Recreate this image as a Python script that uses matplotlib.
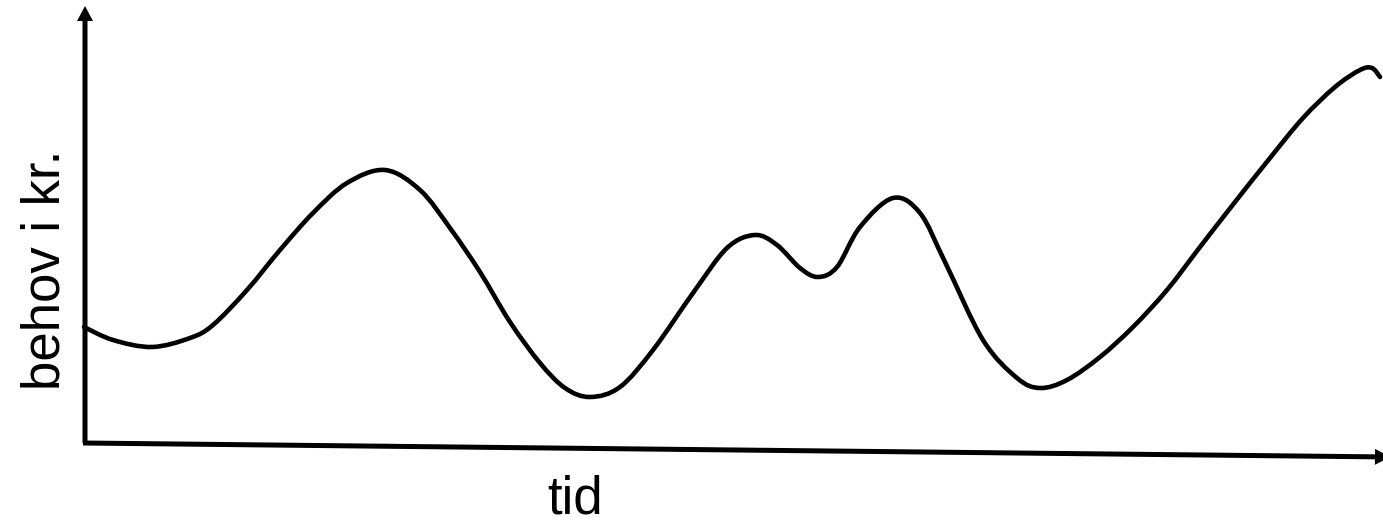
import numpy as np
import matplotlib
matplotlib.use("Agg")
import matplotlib.pyplot as plt
from matplotlib.path import Path
from matplotlib.patches import PathPatch

# kurve (pixelkoordinater aflæst fra billedet, y nedad)
curve_x = [84, 113, 152, 190, 213, 247, 280, 313, 347, 385, 420, 450, 480, 510, 540, 565,
           590, 620, 653, 693, 727, 755, 777, 800, 818, 837, 860, 893, 920, 945,
           983, 1017, 1040, 1067, 1100, 1133, 1167, 1200, 1235, 1270, 1303, 1335, 1360,
           1372, 1380]
curve_y = [327, 340, 347, 338, 325, 290, 250, 213, 183, 170, 190, 228, 272, 322, 363, 388,
           397, 387, 350, 293, 248, 235, 245, 268, 277, 267, 227, 198, 213, 262,
           340, 378, 388, 380, 357, 327, 290, 247, 202, 158, 118, 87, 70,
           68, 77]

x_label = "tid"
y_label = "behov i kr."

plt.rcParams["font.family"] = ["Liberation Sans", "DejaVu Sans"]


def smooth_path(xs, ys):
    # Catmull-Rom -> kubiske bezier-segmenter gennem de aflæste punkter
    p = np.column_stack([xs, ys]).astype(float)
    ext = np.vstack([p[0], p, p[-1]])
    verts = [p[0]]
    codes = [Path.MOVETO]
    for i in range(1, len(ext) - 2):
        p0, p1, p2, p3 = ext[i - 1], ext[i], ext[i + 1], ext[i + 2]
        verts += [p1 + (p2 - p0) / 6, p2 - (p3 - p1) / 6, p2]
        codes += [Path.CURVE4] * 3
    return Path(verts, codes)


fig = plt.figure(figsize=(13.83, 5.24), dpi=100)
ax = fig.add_axes([0, 0, 1, 1])
ax.set_xlim(0, 1383)
ax.set_ylim(524, 0)
ax.axis("off")

# akser med pile
ax.arrow(85, 443, 0, -437, width=5, head_width=16, head_length=15,
         length_includes_head=True, color="black", lw=0)
ax.arrow(83, 443, 1307, 14, width=5, head_width=16, head_length=15,
         length_includes_head=True, color="black", lw=0)

ax.add_patch(PathPatch(smooth_path(curve_x, curve_y), fill=False, ec="black", lw=3.3,
                       capstyle="round", joinstyle="round"))

ax.text(575, 513, x_label, fontsize=38, ha="center", va="baseline")
ax.text(60, 270, y_label, fontsize=38, rotation=90, rotation_mode="anchor",
        ha="center", va="baseline")

fig.savefig("out.png", dpi=100)
